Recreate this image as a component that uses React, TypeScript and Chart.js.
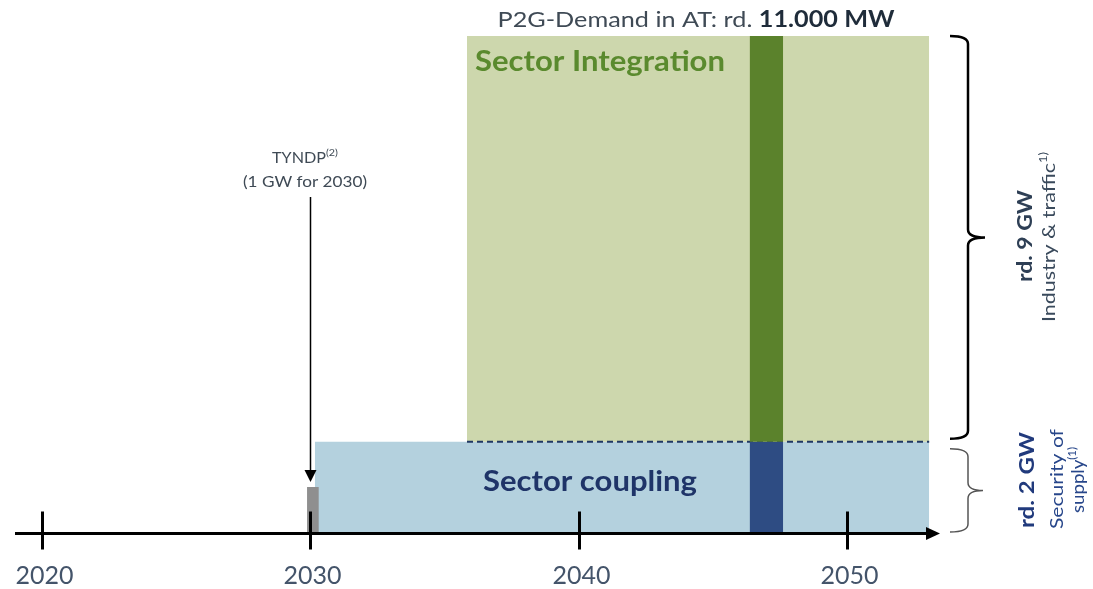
import React, { useEffect, useRef } from "react";
import { Chart, registerables } from "chart.js";

Chart.register(...registerables);

// ---- data (years on x, GW on y) ----
const tickYears = [2020, 2030, 2040, 2050];
const tickLabels = ["2020", "2030", "2040", "2050"];
const xRange = [2019, 2053.5];
const yRangeGW = [0, 11];
const couplingSpan = [2030.17, 2053.06];
const couplingGW = 2;
const integrationSpan = [2035.84, 2053.06];
const integrationTopGW = 11;
const demandBarSpan = [2046.37, 2047.62];
const tyndpSpan = [2029.88, 2030.32];
const tyndpGW = 1;
const tyndpYear = 2030;

// ---- texts ----
const titleNormal = "P2G-Demand in AT: rd. ";
const titleBold = "11.000 MW";
const integrationLabel = "Sector Integration";
const couplingLabel = "Sector coupling";
const tyndpLabel = "TYNDP";
const tyndpSup = "(2)";
const tyndpSub = "(1 GW for 2030)";
const bigBraceTitle = "rd. 9 GW";
const bigBraceText = "Industry & traffic";
const bigBraceSup = "1)";
const smallBraceTitle = "rd. 2 GW";
const smallBraceText1 = "Security of";
const smallBraceText2 = "supply";
const smallBraceSup = "(1)";

const FONT = "Lato, 'Open Sans', sans-serif";

type Run = { text: string; font: string; color: string; dy?: number };

// draws runs centered (or left aligned) at x,y; optionally stretched to a given width
function drawRuns(
  ctx: CanvasRenderingContext2D,
  runs: Run[],
  x: number,
  y: number,
  align: "center" | "left" = "center",
  width?: number
) {
  let total = 0;
  const widths = runs.map((r) => {
    ctx.font = r.font;
    const w = ctx.measureText(r.text).width;
    total += w;
    return w;
  });
  const sx = width ? width / total : 1;
  ctx.save();
  ctx.translate(x, y);
  ctx.scale(sx, 1);
  let cx = align === "center" ? -total / 2 : 0;
  ctx.textAlign = "left";
  ctx.textBaseline = "middle";
  runs.forEach((r, i) => {
    ctx.font = r.font;
    ctx.fillStyle = r.color;
    ctx.fillText(r.text, cx, r.dy || 0);
    cx += widths[i];
  });
  ctx.restore();
}

function drawRotated(ctx: CanvasRenderingContext2D, runs: Run[], x: number, y: number, length?: number) {
  ctx.save();
  ctx.translate(x, y);
  ctx.rotate(-Math.PI / 2);
  drawRuns(ctx, runs, 0, 0, "center", length);
  ctx.restore();
}

function brace(ctx: CanvasRenderingContext2D, top: number, bottom: number, xl: number, xv: number, xt: number, r: number) {
  const mid = (top + bottom) / 2;
  ctx.beginPath();
  ctx.moveTo(xl, top);
  ctx.quadraticCurveTo(xv, top, xv, top + r);
  ctx.lineTo(xv, mid - r);
  ctx.quadraticCurveTo(xv, mid, xt, mid);
  ctx.quadraticCurveTo(xv, mid, xv, mid + r);
  ctx.lineTo(xv, bottom - r);
  ctx.quadraticCurveTo(xv, bottom, xl, bottom);
  ctx.stroke();
}

const overlayPlugin = {
  id: "overlay",
  afterDatasetsDraw(chart: any) {
    const ctx: CanvasRenderingContext2D = chart.ctx;
    const xs = chart.scales.x;
    const ys = chart.scales.y;
    const area = chart.chartArea;
    const y0 = ys.getPixelForValue(0);
    const y2 = ys.getPixelForValue(couplingGW);
    const y11 = ys.getPixelForValue(integrationTopGW);
    ctx.save();

    // x axis with arrow
    const axisY = y0 + 1.5;
    const tip = area.right - 1;
    ctx.strokeStyle = "#000";
    ctx.fillStyle = "#000";
    ctx.lineWidth = 3;
    ctx.beginPath();
    ctx.moveTo(area.left, axisY);
    ctx.lineTo(tip - 10, axisY);
    ctx.stroke();
    ctx.beginPath();
    ctx.moveTo(tip, axisY);
    ctx.lineTo(tip - 14, axisY - 6.5);
    ctx.lineTo(tip - 14, axisY + 6.5);
    ctx.closePath();
    ctx.fill();
    tickYears.forEach((yr, i) => {
      const px = Math.round(xs.getPixelForValue(yr)) + 0.5;
      ctx.strokeStyle = "#000";
      ctx.lineWidth = 3;
      ctx.beginPath();
      ctx.moveTo(px, axisY - 22);
      ctx.lineTo(px, axisY + 16);
      ctx.stroke();
      drawRuns(ctx, [{ text: tickLabels[i], font: `25px ${FONT}`, color: "#44546a" }], px + 2, 576);
    });

    // TYNDP arrow
    const ax = Math.round(xs.getPixelForValue(tyndpYear)) + 0.5;
    const arrowTip = ys.getPixelForValue(tyndpGW) - 5;
    ctx.strokeStyle = "#000";
    ctx.fillStyle = "#000";
    ctx.lineWidth = 1.5;
    ctx.beginPath();
    ctx.moveTo(ax, 197);
    ctx.lineTo(ax, arrowTip - 10);
    ctx.stroke();
    ctx.beginPath();
    ctx.moveTo(ax, arrowTip);
    ctx.lineTo(ax - 6, arrowTip - 12);
    ctx.lineTo(ax + 6, arrowTip - 12);
    ctx.closePath();
    ctx.fill();

    // texts
    drawRuns(ctx, [
      { text: titleNormal, font: `22px ${FONT}`, color: "#3f4a55" },
      { text: titleBold, font: `bold 22px ${FONT}`, color: "#1f2c3a" },
    ], 696, 20, "center", 397);
    drawRuns(ctx, [{ text: integrationLabel, font: `bold 29px ${FONT}`, color: "#5a8a2e" }],
      xs.getPixelForValue(integrationSpan[0]) + 8, 62, "left", 250);
    drawRuns(ctx, [{ text: couplingLabel, font: `bold 29px ${FONT}`, color: "#1f3468" }],
      590, 482, "center", 214);
    drawRuns(ctx, [
      { text: tyndpLabel, font: `15px ${FONT}`, color: "#3f4a55" },
      { text: tyndpSup, font: `10px ${FONT}`, color: "#3f4a55", dy: -5 },
    ], 305, 158, "center", 66);
    drawRuns(ctx, [{ text: tyndpSub, font: `15px ${FONT}`, color: "#3f4a55" }], 305, 182, "center", 124);

    // braces
    ctx.strokeStyle = "#000";
    ctx.lineWidth = 2.5;
    brace(ctx, y11, y2 - 3, 950, 968, 985, 8);
    ctx.strokeStyle = "#555";
    ctx.lineWidth = 1.5;
    brace(ctx, y2 + 7, y0, 950, 968, 983, 8);

    drawRotated(ctx, [{ text: bigBraceTitle, font: `bold 21px ${FONT}`, color: "#2e3f55" }], 1025, 236, 92);
    drawRotated(ctx, [
      { text: bigBraceText, font: `18px ${FONT}`, color: "#3a4a5c" },
      { text: bigBraceSup, font: `11px ${FONT}`, color: "#3a4a5c", dy: -6 },
    ], 1049, 237, 170);
    drawRotated(ctx, [{ text: smallBraceTitle, font: `bold 21px ${FONT}`, color: "#213a7c" }], 1027, 480, 96);
    drawRotated(ctx, [{ text: smallBraceText1, font: `18px ${FONT}`, color: "#27468a" }], 1057, 479, 100);
    drawRotated(ctx, [
      { text: smallBraceText2, font: `18px ${FONT}`, color: "#27468a" },
      { text: smallBraceSup, font: `11px ${FONT}`, color: "#27468a", dy: -6 },
    ], 1078, 480, 66);

    ctx.restore();
  },
};

function box(span: number[], top: number, color: string, base: any, order: number) {
  return {
    type: "line",
    data: [
      { x: span[0], y: top },
      { x: span[1], y: top },
    ],
    borderColor: "transparent",
    borderWidth: 0,
    backgroundColor: color,
    fill: base,
    pointRadius: 0,
    tension: 0,
    order,
  };
}

export default function App() {
  const ref = useRef<HTMLCanvasElement>(null);
  useEffect(() => {
    if (!ref.current) return;
    const chart = new Chart(ref.current, {
      type: "line",
      data: {
        datasets: [
          {
            type: "line",
            data: [
              { x: integrationSpan[0], y: couplingGW },
              { x: integrationSpan[1], y: couplingGW },
            ],
            borderColor: "#1f3864",
            borderWidth: 2,
            borderDash: [6, 4],
            fill: false,
            pointRadius: 0,
            order: 2,
          },
          box(demandBarSpan, integrationTopGW, "#5b822c", { value: couplingGW }, 1),
          box(demandBarSpan, couplingGW, "#2e4c83", "origin", 1),
          box(tyndpSpan, tyndpGW, "#8f8f8f", "origin", 1),
          box(integrationSpan, integrationTopGW, "#cdd7ad", { value: couplingGW }, 3),
          box(couplingSpan, couplingGW, "#b4d1de", "origin", 3),
        ] as any,
      },
      options: {
        animation: false,
        responsive: false,
        layout: { padding: { left: 15, right: 152, top: 36, bottom: 57 } },
        plugins: { legend: { display: false }, tooltip: { enabled: false } },
        scales: {
          x: { type: "linear", display: false, min: xRange[0], max: xRange[1] },
          y: { display: false, min: yRangeGW[0], max: yRangeGW[1] },
        },
      } as any,
      plugins: [overlayPlugin],
    });
    return () => chart.destroy();
  }, []);
  return (
    <div style={{ position: "absolute", left: 0, top: 0, width: 1093, height: 589, background: "#fff" }}>
      <canvas ref={ref} width={1093} height={589} style={{ display: "block" }} />
    </div>
  );
}
